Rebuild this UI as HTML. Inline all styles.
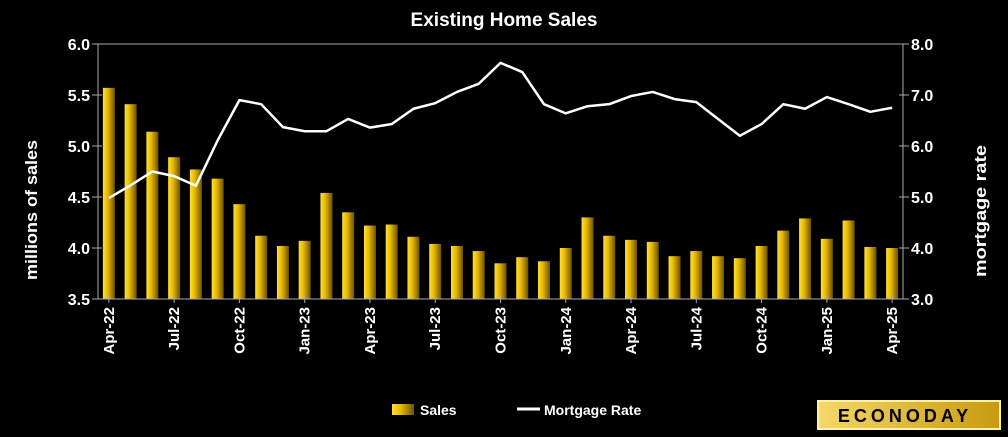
<!DOCTYPE html>
<html><head><meta charset="utf-8"><style>
body{margin:0;background:#000;width:1008px;height:432px;overflow:hidden;font-family:"Liberation Sans",sans-serif}
</style></head><body>
<svg id="c" width="1008" height="432" xmlns="http://www.w3.org/2000/svg">
<defs><linearGradient id="g" x1="0" x2="1" y1="0" y2="0"><stop offset="0" stop-color="#ffe030"/><stop offset="0.4" stop-color="#e8b800"/><stop offset="1" stop-color="#6a5200"/></linearGradient>
<linearGradient id="lg" x1="0" x2="1"><stop offset="0" stop-color="#f5d86a"/><stop offset="1" stop-color="#c89a10"/></linearGradient></defs>
<text x="504" y="26" fill="#fff" font-size="19" font-weight="bold" text-anchor="middle">Existing Home Sales</text>
<text transform="translate(37,210) rotate(-90)" fill="#fff" font-size="17" font-weight="bold" text-anchor="middle" textLength="140" lengthAdjust="spacingAndGlyphs">millions of sales</text>
<text transform="translate(986,211) rotate(-90)" fill="#fff" font-size="17" font-weight="bold" text-anchor="middle" textLength="132" lengthAdjust="spacingAndGlyphs">mortgage rate</text>
<g id="bars"></g><g id="axes"></g>
<g>
<rect x="392" y="404" width="22" height="11" fill="url(#g)"/>
<text x="420" y="415" fill="#fff" font-size="14" font-weight="bold">Sales</text>
<line x1="517" y1="409" x2="540" y2="409" stroke="#fff" stroke-width="3"/>
<text x="544" y="415" fill="#fff" font-size="14" font-weight="bold">Mortgage Rate</text>
</g>
<g>
<rect x="818" y="401" width="182" height="28" fill="url(#lg)" stroke="#fff3a0" stroke-width="2"/>
<text x="905" y="422" fill="#000" font-size="18" font-weight="bold" text-anchor="middle" letter-spacing="4">ECONODAY</text>
</g>
</svg>
<script>
const months=["Apr-22","May-22","Jun-22","Jul-22","Aug-22","Sep-22","Oct-22","Nov-22","Dec-22","Jan-23","Feb-23","Mar-23","Apr-23","May-23","Jun-23","Jul-23","Aug-23","Sep-23","Oct-23","Nov-23","Dec-23","Jan-24","Feb-24","Mar-24","Apr-24","May-24","Jun-24","Jul-24","Aug-24","Sep-24","Oct-24","Nov-24","Dec-24","Jan-25","Feb-25","Mar-25","Apr-25"];
const sales=[5.57,5.41,5.14,4.89,4.77,4.68,4.43,4.12,4.02,4.07,4.54,4.35,4.22,4.23,4.11,4.04,4.02,3.97,3.85,3.91,3.87,4.00,4.30,4.12,4.08,4.06,3.92,3.97,3.92,3.90,4.02,4.17,4.29,4.09,4.27,4.01,4.00];
const mortgage=[4.98,5.23,5.50,5.41,5.22,6.11,6.90,6.82,6.37,6.29,6.29,6.53,6.36,6.43,6.73,6.84,7.06,7.22,7.63,7.45,6.82,6.64,6.78,6.82,6.98,7.06,6.92,6.86,6.53,6.20,6.43,6.82,6.73,6.96,6.82,6.67,6.75];
const leftTicks=["3.5","4.0","4.5","5.0","5.5","6.0"];
const rightTicks=["3.0","4.0","5.0","6.0","7.0","8.0"];
const NS="http://www.w3.org/2000/svg";
const X0=98,X1=903,Y0=299,Y1=44,band=(X1-X0)/months.length;
const xc=i=>X0+band*(i+0.5);
const yL=v=>Y0-(v-3.5)/(6-3.5)*(Y0-Y1);
const yR=v=>Y0-(v-3)/(8-3)*(Y0-Y1);
function mk(t,a,p){const e=document.createElementNS(NS,t);for(const k in a)e.setAttribute(k,a[k]);(p||document.getElementById('axes')).appendChild(e);return e;}
const bars=document.getElementById('bars');
sales.forEach((v,i)=>{const r=mk('rect',{x:xc(i)-6,y:yL(v),width:12,height:Y0-yL(v),fill:'url(#g)'},bars);

});
const ax=mk('path',{d:`M${X0} ${Y1}V${Y0}H${X1}V${Y1}H${X0}`,stroke:'#aaa',fill:'none','stroke-width':1});


leftTicks.forEach(t=>{const y=yL(+t);mk('line',{x1:X0-6,x2:X0+4,y1:y,y2:y,stroke:'#aaa'});
const e=mk('text',{x:X0-8,y:y+6,fill:'#fff','font-size':16,'font-weight':'bold','text-anchor':'end'});e.textContent=t;

});
rightTicks.forEach(t=>{const y=yR(+t);mk('line',{x1:X1-4,x2:X1+6,y1:y,y2:y,stroke:'#aaa'});
const e=mk('text',{x:X1+8,y:y+6,fill:'#fff','font-size':16,'font-weight':'bold'});e.textContent=t;

});
months.forEach((m,i)=>{if(i%3)return;const x=xc(i);mk('line',{x1:x,x2:x,y1:Y0-4,y2:Y0+4,stroke:'#aaa'});
const e=mk('text',{transform:`translate(${x+5},${Y0+8}) rotate(-90)`,fill:'#fff','font-size':15,'font-weight':'bold','text-anchor':'end'});e.textContent=m;

});
const line=mk('polyline',{points:mortgage.map((v,i)=>xc(i)+','+yR(v)).join(' '),fill:'none',stroke:'#fff','stroke-width':2.5,'stroke-linejoin':'round'});


</script>
</body></html>
